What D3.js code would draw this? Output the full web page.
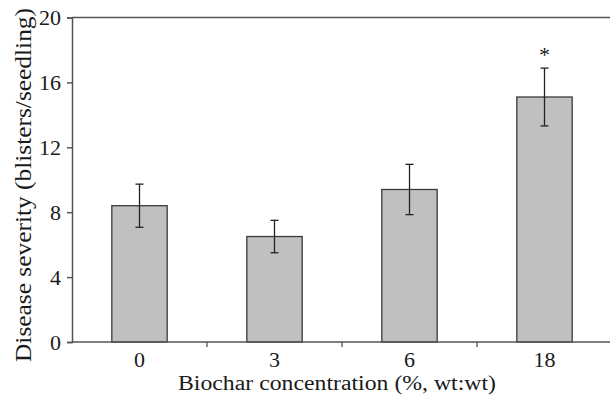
<!DOCTYPE html>
<html>
<head>
<meta charset="utf-8">
<script src="https://cdn.jsdelivr.net/npm/d3@7"></script>
<style>
  body { margin: 0; background: #fff; }
  svg text { font-family: "Liberation Serif", "DejaVu Serif", serif; fill: #1a1a1a; }
</style>
</head>
<body>
<svg width="610" height="401"></svg>
<script>
var categories = ["0", "3", "6", "18"];
var severity = [8.4, 6.5, 9.4, 15.1];
var errors = [1.33, 1.0, 1.55, 1.78];
var significant = [false, false, false, true];
var yTicks = [0, 4, 8, 12, 16, 20];

var svg = d3.select("svg"),
    margin = { top: 17.5, right: -2, bottom: 59, left: 72 },
    width = +svg.attr("width") - margin.left - margin.right,
    height = +svg.attr("height") - margin.top - margin.bottom,
    g = svg.append("g").attr("transform", "translate(" + margin.left + "," + margin.top + ")");

var x = d3.scaleBand()
    .domain(categories)
    .range([0, width])
    .paddingInner(0.59)
    .paddingOuter(0.295);

var y = d3.scaleLinear()
    .domain([0, 20])
    .range([height, 0]);

// bars
g.selectAll(".bar")
    .data(severity)
    .enter().append("rect")
    .attr("class", "bar")
    .attr("x", function(d, i) { return x(categories[i]); })
    .attr("y", function(d) { return y(d); })
    .attr("width", x.bandwidth())
    .attr("height", function(d) { return height - y(d); })
    .attr("fill", "#c0c0c0")
    .attr("stroke", "#3a3a3a")
    .attr("stroke-width", 1.3);

// error bars
var err = g.selectAll(".err")
    .data(severity)
    .enter().append("g")
    .attr("class", "err")
    .attr("stroke", "#222")
    .attr("stroke-width", 1.3);

err.append("line")
    .attr("x1", function(d, i) { return x(categories[i]) + x.bandwidth() / 2; })
    .attr("x2", function(d, i) { return x(categories[i]) + x.bandwidth() / 2; })
    .attr("y1", function(d, i) { return y(d + errors[i]); })
    .attr("y2", function(d, i) { return y(d - errors[i]); });

[1, -1].forEach(function(s) {
    err.append("line")
        .attr("x1", function(d, i) { return x(categories[i]) + x.bandwidth() / 2 - 4; })
        .attr("x2", function(d, i) { return x(categories[i]) + x.bandwidth() / 2 + 4; })
        .attr("y1", function(d, i) { return y(d + s * errors[i]); })
        .attr("y2", function(d, i) { return y(d + s * errors[i]); });
});

// significance marker
g.selectAll(".star")
    .data(severity)
    .enter().filter(function(d, i) { return significant[i]; })
    .append("text")
    .attr("class", "star")
    .attr("x", function(d, i) { return x(categories[3]) + x.bandwidth() / 2; })
    .attr("y", function(d) { return y(d + errors[3]) - 6; })
    .attr("text-anchor", "middle")
    .style("font-size", "22px")
    .text("*");

// y axis
var yAxis = g.append("g")
    .attr("class", "axis axisY")
    .call(d3.axisLeft(y).tickValues(yTicks).tickSize(5).tickPadding(6));
yAxis.selectAll("text").style("font-size", "22px");

// x axis
var xAxis = g.append("g")
    .attr("class", "axis axisX")
    .attr("transform", "translate(0," + height + ")")
    .call(d3.axisBottom(x).tickSize(0).tickPadding(9));
xAxis.selectAll("text").style("font-size", "22px");
xAxis.select(".domain").remove();

// separator ticks between categories
g.append("g")
    .selectAll("line")
    .data(categories.slice(1))
    .enter().append("line")
    .attr("x1", function(d) { return x(d) - x.step() * x.paddingInner() / 2; })
    .attr("x2", function(d) { return x(d) - x.step() * x.paddingInner() / 2; })
    .attr("y1", height)
    .attr("y2", height + 5)
    .attr("stroke", "#555")
    .attr("stroke-width", 1.3);

// frame lines
g.append("line")
    .attr("x1", 0).attr("x2", width)
    .attr("y1", height).attr("y2", height)
    .attr("stroke", "#555").attr("stroke-width", 1.5);
g.append("line")
    .attr("x1", 0).attr("x2", width)
    .attr("y1", 0).attr("y2", 0)
    .attr("stroke", "#555").attr("stroke-width", 1.5);

svg.selectAll(".axis .domain, .axis .tick line").attr("stroke", "#555").attr("stroke-width", 1.5);

// axis titles
svg.append("text")
    .attr("x", 178)
    .attr("y", 390)
    .attr("textLength", 318)
    .attr("lengthAdjust", "spacingAndGlyphs")
    .style("font-size", "20px")
    .text("Biochar concentration (%, wt:wt)");

svg.append("text")
    .attr("transform", "translate(31,362) rotate(-90)")
    .attr("textLength", 354)
    .attr("lengthAdjust", "spacingAndGlyphs")
    .style("font-size", "23px")
    .text("Disease severity (blisters/seedling)");
</script>
</body>
</html>
